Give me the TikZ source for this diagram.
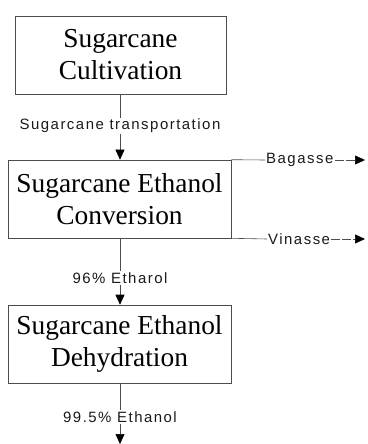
\documentclass[tikz,border=0pt]{standalone}
\usepackage{fontspec}
\setmainfont{Liberation Serif}
\newfontfamily\labelfont[LetterSpace=10]{Liberation Sans}
\usetikzlibrary{arrows.meta}
\begin{document}
\begin{tikzpicture}[x=1bp,y=-1bp,
  stage/.style={draw=black!70,line width=0.6bp,inner sep=0pt,
    minimum height=78bp,align=center,
    font=\fontsize{27.5}{32}\selectfont},
  flowlabel/.style={inner sep=1bp,font=\labelfont\fontsize{15}{18}\selectfont,text=black!90},
  link/.style={draw=black!70,line width=0.6bp},
  tip/.style={-{Triangle[length=10bp,width=9bp,color=black,fill=black]}},
  flow/.style={link,tip},
  sideflow/.style={link,dash pattern=on 9bp off 2bp,tip}]
\useasboundingbox (0,0) rectangle (367,444);

% process stages
\node[stage,minimum width=211bp] (cult) at (120.5,55) {Sugarcane\\Cultivation};
\node[stage,minimum width=223bp] (conv) at (119.5,199) {Sugarcane Ethanol\\Conversion};
\node[stage,minimum width=223bp] (dehy) at (119.5,344) {Sugarcane Ethanol\\Dehydration};

% stream labels on the main line
\node[flowlabel] (trans) at (120,126) {Sugarcane transportation};
\node[flowlabel] (e96) at (120,278) {96\% Etharol};
\node[flowlabel] (e995) at (120,417) {99.5\% Ethanol};
\coordinate (prod) at (120,444);

% by-products
\node[flowlabel,anchor=west] (bag) at (265,160) {Bagasse};
\node[flowlabel,anchor=west] (vin) at (267,239) {Vinasse};
\coordinate (bagend) at (365,160);
\coordinate (vinend) at (365,239);

% main line
\draw[link] (cult.south -| trans.north) -- (trans.north);
\draw[flow] (trans.south) -- (trans.south |- conv.north);
\draw[link] (conv.south -| e96.north) -- (e96.north);
\draw[flow] (e96.south) -- (e96.south |- dehy.north);
\draw[link] (dehy.south -| e995.north) -- (e995.north);
\draw[flow] (e995.south) -- (prod);

% by-product streams
\draw[link] (conv.north east) -- (bag.west);
\draw[sideflow] (bag.east) -- (bagend);
\draw[link] (conv.south east) -- (vin.west);
\draw[sideflow] (vin.east) -- (vinend);
\end{tikzpicture}
\end{document}
